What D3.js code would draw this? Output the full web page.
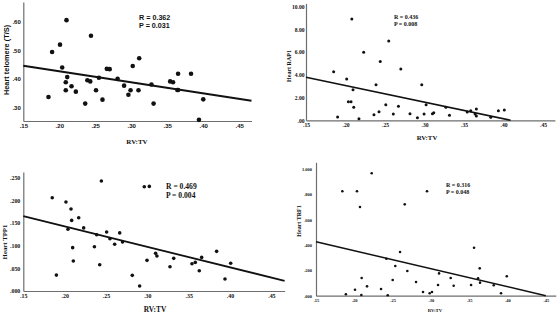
<!DOCTYPE html>
<html>
<head>
<meta charset="utf-8">
<script src="https://cdn.jsdelivr.net/npm/d3@7"></script>
<style>
  body { margin: 0; background: #fff; }
  svg { display: block; }
</style>
</head>
<body>
<svg id="chart" width="560" height="315"></svg>
<script>
// RV:TV against heart telomere / shelterin measures
const telX = [0.185,0.190,0.201,0.210,0.204,0.209,0.211,0.209,0.217,0.223,0.236,0.239,0.243,0.244,0.251,0.255,0.260,0.266,0.270,0.281,0.290,0.296,0.299,0.302,0.310,0.311,0.328,0.331,0.354,0.358,0.364,0.365,0.365,0.383,0.394,0.400];
const telY = [0.336,0.494,0.520,0.606,0.440,0.388,0.406,0.360,0.374,0.355,0.313,0.395,0.391,0.551,0.360,0.404,0.327,0.435,0.434,0.400,0.376,0.344,0.360,0.445,0.360,0.472,0.380,0.313,0.391,0.388,0.361,0.361,0.418,0.418,0.256,0.328];
const telFitX = [0.15, 0.467];
const telFitY = [0.446, 0.323];

const rapX = [0.185,0.190,0.2015,0.2036,0.207,0.208,0.2095,0.2104,0.217,0.223,0.236,0.2386,0.2424,0.244,0.251,0.2547,0.2605,0.267,0.270,0.2816,0.291,0.2965,0.2994,0.302,0.310,0.3117,0.327,0.3316,0.354,0.3585,0.364,0.3656,0.3656,0.3838,0.3935,0.401];
const rapY = [4.28,0.29,3.64,1.64,1.64,8.92,2.70,1.14,0.14,6.00,0.50,3.14,0.76,5.17,1.38,6.98,0.55,1.23,4.52,0.58,0.23,3.14,0.55,1.38,0.58,0.67,1.14,0.44,0.73,0.85,0.55,0.38,1.00,0.26,0.85,0.91];
const rapFitX = [0.15, 0.409];
const rapFitY = [3.79, 0];

const tppX = [0.185,0.190,0.2016,0.204,0.2077,0.2085,0.2097,0.2105,0.217,0.223,0.236,0.2387,0.2424,0.2444,0.2508,0.2548,0.2605,0.2666,0.270,0.2818,0.2907,0.2963,0.2996,0.3024,0.310,0.3116,0.3274,0.3319,0.354,0.358,0.3628,0.3657,0.3838,0.3939,0.4008];
const tppY = [0.2055,0.035,0.196,0.136,0.1806,0.1556,0.0955,0.066,0.1615,0.139,0.0976,0.124,0.058,0.2423,0.130,0.115,0.103,0.128,0.108,0.0345,0.011,0.2297,0.0675,0.2305,0.083,0.077,0.0535,0.072,0.060,0.063,0.0447,0.074,0.0874,0.0264,0.061];
const tppFitX = [0.15, 0.466];
const tppFitY = [0.165, 0.0223];

const trfX = [0.1844,0.189,0.2009,0.2035,0.2074,0.2092,0.2096,0.2166,0.2227,0.2349,0.2418,0.2436,0.2501,0.2535,0.2597,0.2658,0.2692,0.2806,0.2897,0.2949,0.2984,0.3014,0.3093,0.3106,0.3258,0.3297,0.3524,0.3563,0.3615,0.3637,0.3641,0.382,0.3915,0.399];
const trfY = [0.824,0.011,0.047,0.824,0.70,0.005,0.14,0.074,0.966,0.053,0.292,0.003,0.124,0.234,0.345,0.721,0.195,0.108,0.029,0.824,0.019,0.029,0.084,0.176,0.14,0.079,0.084,0.379,0.137,0.216,0.103,0.082,0.019,0.153];
const trfFitX = [0.15, 0.45];
const trfFitY = [0.426, 0];

// tick values and labels
const xTicks = [0.15,0.20,0.25,0.30,0.35,0.40,0.45];
const xTickLabels = [".15",".20",".25",".30",".35",".40",".45"];
const telTicks = [0.30,0.40,0.50,0.60];
const telTickLabels = [".30",".40",".50",".60"];
const rapTicks = [0,2,4,6,8,10];
const rapTickLabels = [".00","2.00","4.00","6.00","8.00","10.00"];
const tppTicks = [0,0.05,0.10,0.15,0.20,0.25];
const tppTickLabels = [".000",".050",".100",".150",".200",".250"];
const trfTicks = [0,0.2,0.4,0.6,0.8,1.0];
const trfTickLabels = [".000",".200",".400",".600",".800","1.000"];

const sans = "'Liberation Sans', Arial, sans-serif";
const serif = "'Liberation Serif', 'Times New Roman', serif";

const svg = d3.select("#chart");

function drawPanel(p) {
  const x = d3.scaleLinear().domain(p.xDom).range(p.xRange);
  const y = d3.scaleLinear().domain(p.yDom).range(p.yRange);
  const g = svg.append("g");

  // x axis
  const xa = g.append("g")
    .attr("transform", "translate(0," + p.yRange[0] + ")")
    .call(d3.axisBottom(x).tickValues(xTicks)
      .tickFormat((d, i) => xTickLabels[i])
      .tickSize(0).tickPadding(p.xPad));
  // y axis
  const ya = g.append("g")
    .attr("transform", "translate(" + p.xRange[0] + ",0)")
    .call(d3.axisLeft(y).tickValues(p.yTicks)
      .tickFormat((d, i) => p.yLabels[i])
      .tickSize(0).tickPadding(p.yPad));
  [xa, ya].forEach(a => {
    a.select(".domain").attr("stroke", "#6e6e6e").attr("stroke-width", 1.2);
    a.selectAll("text")
      .attr("fill", "#111")
      .style("font-family", p.font)
      .style("font-weight", "bold")
      .style("font-size", p.tickSize + "px");
  });

  // dots
  g.selectAll("circle.dot")
    .data(p.xs.map((v, i) => [v, p.ys[i]]))
    .join("circle")
    .attr("class", "dot")
    .attr("cx", d => x(d[0]))
    .attr("cy", d => y(d[1]))
    .attr("r", p.r)
    .attr("fill", "#111");

  // fit line
  g.append("path")
    .datum(p.fitX.map((v, i) => [v, p.fitY[i]]))
    .attr("fill", "none")
    .attr("stroke", "#111")
    .attr("stroke-width", p.lw)
    .attr("d", d3.line().x(d => x(d[0])).y(d => y(d[1])));

  // axis titles
  g.append("text")
    .attr("transform", "translate(" + p.yTitlePos[0] + "," + p.yTitlePos[1] + ") rotate(-90)")
    .attr("text-anchor", "middle")
    .attr("dominant-baseline", "central")
    .style("font-family", p.yTitleFont)
    .style("font-weight", "bold")
    .style("font-size", p.yTitleSize + "px")
    .attr("fill", "#111")
    .text(p.yTitle);
  g.append("text")
    .attr("x", p.xTitlePos[0]).attr("y", p.xTitlePos[1])
    .attr("text-anchor", "middle")
    .attr("dominant-baseline", "central")
    .style("font-family", serif)
    .style("font-weight", "bold")
    .style("font-size", p.xTitleSize + "px")
    .attr("fill", "#111")
    .text("RV:TV");

  // stats
  p.stats.forEach((s, i) => {
    g.append("text")
      .attr("x", p.statPos[0]).attr("y", p.statPos[1] + i * p.statGap)
      .style("font-family", p.font)
      .style("font-weight", "bold")
      .style("font-size", p.statSize + "px")
      .attr("fill", "#111")
      .text(s);
  });
}

drawPanel({
  xs: telX, ys: telY, fitX: telFitX, fitY: telFitY,
  xDom: [0.15, 0.467], xRange: [23.3, 251.5],
  yDom: [0.252, 0.67], yRange: [121, 1.9],
  yTicks: telTicks, yLabels: telTickLabels,
  font: sans, tickSize: 6, xPad: 3, yPad: 2.5,
  r: 2.3, lw: 2,
  yTitle: "Heart telomere (T/S)", yTitleFont: sans, yTitleSize: 7.4, yTitlePos: [6, 60],
  xTitleSize: 7, xTitlePos: [137, 142],
  stats: ["R = 0.362", "P = 0.031"], statPos: [139, 19.5], statGap: 8.2, statSize: 7.2
});

drawPanel({
  xs: rapX, ys: rapY, fitX: rapFitX, fitY: rapFitY,
  xDom: [0.15, 0.465], xRange: [306, 554.9],
  yDom: [0, 10.3], yRange: [120.3, 3.4],
  yTicks: rapTicks, yLabels: rapTickLabels,
  font: serif, tickSize: 5.6, xPad: 3, yPad: 1.5,
  r: 1.5, lw: 1.6,
  yTitle: "Heart RAP1", yTitleFont: serif, yTitleSize: 6, yTitlePos: [289, 66],
  xTitleSize: 6.8, xTitlePos: [427, 137],
  stats: ["R = 0.436", "P = 0.008"], statPos: [394, 19], statGap: 7.2, statSize: 6
});

drawPanel({
  xs: tppX, ys: tppY, fitX: tppFitX, fitY: tppFitY,
  xDom: [0.15, 0.466], xRange: [23.3, 284.6],
  yDom: [0, 0.262], yRange: [291, 172.1],
  yTicks: tppTicks, yLabels: tppTickLabels,
  font: serif, tickSize: 5.9, xPad: 2.5, yPad: 3,
  r: 1.8, lw: 1.8,
  yTitle: "Heart TPP1", yTitleFont: serif, yTitleSize: 6.8, yTitlePos: [4.5, 242],
  xTitleSize: 7.4, xTitlePos: [155, 309],
  stats: ["R = 0.469", "P = 0.004"], statPos: [166, 188.8], statGap: 8.8, statSize: 7.6
});

drawPanel({
  xs: trfX, ys: trfY, fitX: trfFitX, fitY: trfFitY,
  xDom: [0.15, 0.463], xRange: [316, 555.8],
  yDom: [0, 1.053], yRange: [295.7, 162.3],
  yTicks: trfTicks, yLabels: trfTickLabels,
  font: serif, tickSize: 4.5, xPad: 3, yPad: 4,
  r: 1.3, lw: 1.5,
  yTitle: "Heart TRF1", yTitleFont: serif, yTitleSize: 6, yTitlePos: [299, 221],
  xTitleSize: 4.8, xTitlePos: [435, 310],
  stats: ["R = 0.316", "P = 0.048"], statPos: [446, 186.5], statGap: 7.2, statSize: 6
});
</script>
</body>
</html>
